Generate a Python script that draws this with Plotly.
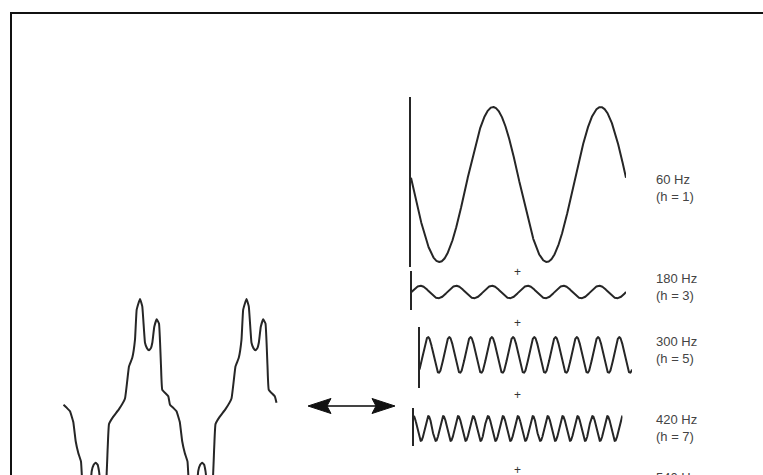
import numpy as np
import plotly.graph_objects as go

# ---------------- data ----------------
# distorted waveform (two fundamental cycles), angle in degrees of the fundamental
dist_theta = [0, 11.8, 22.0, 33.1, 41.2, 50.0, 59.2, 67.3, 78.4, 86.2, 95.3, 102.0, 108.8, 115.5, 120.0,
              126.8, 134.9, 142.6, 149.4, 153.8, 168.3, 187.6, 207.9, 221.4, 232.5, 241.7,
              247.4, 258.6, 266.3, 275.5, 282.0, 289.0, 295.5, 300.2, 306.9, 315.0, 322.8, 329.6, 333.9, 354.2,
              360, 371.8, 382.0, 393.1, 401.2, 410.0, 419.2, 427.3, 438.4, 446.2, 455.3, 462.0, 468.8, 475.5, 480.0,
              486.8, 494.9, 502.6, 509.4, 513.8, 528.3, 547.6, 567.9, 581.4, 592.5, 601.7,
              607.4, 618.6, 626.3, 635.5, 642.0, 649.0, 655.5, 660.2, 666.9, 675.0, 682.8, 689.6, 693.9, 714.2, 720]
dist_value = [0.02, -0.01, -0.04, -0.14, -0.32, -0.43, -0.51, -0.91, -1.01, -0.94, -0.60, -0.54, -0.52, -0.54, -0.60,
              -0.75, -0.82, -0.78, -0.38, -0.16, -0.09, -0.02, 0.08, 0.38, 0.46, 0.63,
              0.91, 1.01, 0.94, 0.60, 0.55, 0.53, 0.55, 0.60, 0.75, 0.82, 0.78, 0.38, 0.16, 0.10,
              0.02, -0.01, -0.04, -0.14, -0.32, -0.43, -0.51, -0.91, -1.01, -0.94, -0.60, -0.54, -0.52, -0.54, -0.60,
              -0.75, -0.82, -0.78, -0.38, -0.16, -0.09, -0.02, 0.08, 0.38, 0.46, 0.63,
              0.91, 1.01, 0.94, 0.60, 0.55, 0.53, 0.55, 0.60, 0.75, 0.82, 0.78, 0.38, 0.16, 0.10, 0.04]

# harmonic components (amplitude in per-unit of the fundamental, phase in degrees)
harm_freq = [60, 180, 300, 420, 540]
harm_order = [1, 3, 5, 7, 9]
harm_amp = [1.0, 0.08, 0.23, 0.16]
harm_phase = [175, 0, -55, 90]
harm_labels = [f"{f} Hz<br>(h = {h})" for f, h in zip(harm_freq, harm_order)]

# ---------------- layout helpers ----------------
W, H = 763, 475
def fx(p):
    return p / W
def fy(p):
    return 1 - p / H
def lin(p, p0, p1, d0, d1):
    return d0 + (p - p0) * (d1 - d0) / (p1 - p0)

INK = "#262626"
fig = go.Figure()

# left distorted waveform
fig.add_trace(go.Scatter(x=dist_theta, y=dist_value, mode="lines",
                         line=dict(color=INK, width=2, shape="spline", smoothing=0.3),
                         xaxis="x", yaxis="y", hoverinfo="skip"))
L_x0, L_x1, L_t0, L_t1 = 55, 285, 63.5, 276.5
L_ytop, L_ybot, L_c, L_s = 285, 475, 407, 107
layout_axes = {}
layout_axes["xaxis"] = dict(domain=[fx(L_x0), fx(L_x1)],
                            range=[lin(L_x0, L_t0, L_t1, 0, 720), lin(L_x1, L_t0, L_t1, 0, 720)],
                            visible=False, anchor="y")
layout_axes["yaxis"] = dict(domain=[fy(L_ybot), fy(L_ytop)],
                            range=[(L_c - L_ybot) / L_s, (L_c - L_ytop) / L_s],
                            visible=False, anchor="x")

# harmonic panels: axis-line x, wave end x, axis top, axis bottom, wave centre (pixels)
panels = [(411, 626, 97, 267, 184.5),
          (411.5, 626, 271, 310, 292),
          (419.5, 632, 327, 388, 355),
          (413.5, 622.5, 408, 446, 428.5)]
SCALE = 77.5
theta = np.linspace(0, 720, 2881)
for i, (amp, ph, h) in enumerate(zip(harm_amp, harm_phase, harm_order)):
    n = i + 2
    xa, ya = f"x{n}", f"y{n}"
    x0, x1, yt, yb, c = panels[i]
    yv = amp * np.sin(np.radians(h * theta + ph))
    fig.add_trace(go.Scatter(x=theta, y=yv, mode="lines",
                             line=dict(color=INK, width=2), xaxis=xa, yaxis=ya,
                             hoverinfo="skip"))
    layout_axes[f"xaxis{n}"] = dict(domain=[fx(x0), fx(x1)], range=[0, 720],
                                    visible=False, anchor=ya)
    layout_axes[f"yaxis{n}"] = dict(domain=[fy(yb), fy(yt)],
                                    range=[(c - yb) / SCALE, (c - yt) / SCALE],
                                    showline=True, linecolor=INK, linewidth=2,
                                    showgrid=False, zeroline=False, showticklabels=False,
                                    ticks="", anchor=xa)

fig.update_layout(**layout_axes)

# annotations: labels and plus signs
label_centres = [188, 287, 350, 428, 486]
annotations = []
for txt, yc in zip(harm_labels, label_centres):
    annotations.append(dict(x=fx(654), y=fy(yc), xref="paper", yref="paper",
                            text=txt, showarrow=False, xanchor="left", yanchor="middle",
                            align="left",
                            font=dict(family="Liberation Sans, Arial", size=13, color="#444444")))
for yc in [271.5, 323, 395, 470]:
    annotations.append(dict(x=fx(517), y=fy(yc), xref="paper", yref="paper", text="+",
                            showarrow=False, xanchor="center", yanchor="middle",
                            font=dict(family="Liberation Sans, Arial", size=12, color="#333333")))

def path(points, close=True):
    s = "M " + " L ".join(f"{fx(a)},{fy(b)}" for a, b in points)
    return s + (" Z" if close else "")

shapes = [
    # frame (only its top and left sides fall inside the picture)
    dict(type="path", xref="paper", yref="paper",
         path=path([(11, 560), (11, 13), (900, 13)], close=False),
         line=dict(color="#111111", width=2)),
    dict(type="line", xref="paper", yref="paper", x0=fx(326), y0=fy(406), x1=fx(377), y1=fy(406),
         line=dict(color="#444444", width=2)),
    dict(type="path", xref="paper", yref="paper",
         path=path([(308, 406), (331, 398.5), (327, 406), (331, 413.5)]),
         fillcolor="#111111", line=dict(color="#111111", width=1)),
    dict(type="path", xref="paper", yref="paper",
         path=path([(395, 406), (372, 398.5), (376, 406), (372, 413.5)]),
         fillcolor="#111111", line=dict(color="#111111", width=1)),
]

fig.update_layout(width=W, height=H, margin=dict(l=0, r=0, t=0, b=0),
                  paper_bgcolor="white", plot_bgcolor="rgba(0,0,0,0)",
                  showlegend=False, annotations=annotations, shapes=shapes)

fig.write_html("out.html",
               config={"displayModeBar": False, "staticPlot": True},
               post_script="document.body.style.margin='0';document.body.style.overflow='hidden';")
